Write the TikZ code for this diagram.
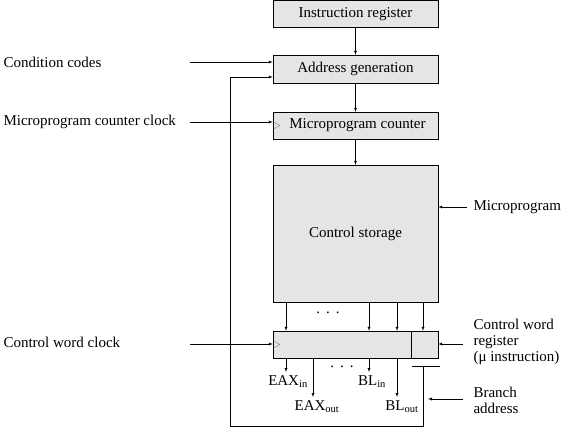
\documentclass[tikz,border=0pt]{standalone}
\usepackage{fontspec}
\setmainfont{Liberation Serif}
\begin{document}
\begin{tikzpicture}[x=1pt,y=-1pt,>=latex,
  every node/.style={font=\fontsize{15}{16}\selectfont},
  regbox/.style={draw,fill=gray!20,minimum width=165pt,inner sep=0pt}]
  \useasboundingbox (0,0) rectangle (563,428);
  % Registres et mémoire
  \node[regbox,minimum height=27pt] (ir) at (355.5,14) {Instruction register};
  \node[regbox,minimum height=28pt] (ag) at (355.5,69) {Address generation};
  \node[regbox,minimum height=27pt] (mpc) at (355.5,125.5) {\hspace{4pt}Microprogram counter};
  \node[regbox,minimum height=137pt] (cs) at (355.5,233.5) {Control storage};
  \node[regbox,minimum height=27pt] (cwr) at (355.5,344.5) {};
  \draw (411,0 |- cwr.north) -- (411,0 |- cwr.south);
  % Horloges
  \draw [gray] ([yshift=4pt]mpc.west) -- ++(7,4) -- ++(-7,4);
  \draw [gray] ([yshift=4pt]cwr.west) -- ++(7,4) -- ++(-7,4);
  % Flèches entre les blocs
  \draw [->] (ir) -- (ag);
  \draw [->] (ag) -- (mpc);
  \draw [->] (mpc) -- (cs);
  \foreach \x in {286,369,397,423}
    \draw [->] (\x,0 |- cs.south) -- (\x,0 |- cwr.north);
  \node (dotsa) at (328,313) {.\hspace{6pt}.\hspace{6pt}.};
  % Entrées à gauche
  \node [anchor=west] (cc) at (0,62) {Condition codes};
  \node [anchor=west] (mpcclk) at (0,122) {Microprogram counter clock};
  \node [anchor=west] (cwclk) at (0,342) {Control word clock};
  \coordinate (ccin) at (190,62);
  \coordinate (mpcin) at (190,122);
  \coordinate (cwin) at (190,344);
  \draw [->] (ccin) -- (ccin -| ag.west);
  \draw [->] (mpcin) -- (mpcin -| mpc.west);
  \draw [->] (cwin) -- (cwin -| cwr.west);
  % Textes à droite
  \node [anchor=west] (mp) at (470,207) {Microprogram};
  \node [anchor=west,align=left] (cwl) at (470,342) {Control word\\register\\(μ instruction)};
  \node [anchor=west,align=left] (ba) at (470,400) {Branch\\address};
  \coordinate (mpin) at (467,207);
  \coordinate (cwlin) at (463,344);
  \coordinate (bain) at (463,399);
  \draw [->] (mpin) -- (mpin -| cs.east);
  \draw [->] (cwlin) -- (cwlin -| cwr.east);
  % Sorties du mot de commande
  \node [anchor=north] (eaxin) at (288,372) {EAX\textsubscript{in}};
  \node [anchor=north] (eaxout) at (317,397) {EAX\textsubscript{out}};
  \node [anchor=north] (blin) at (372,372) {BL\textsubscript{in}};
  \node [anchor=north] (blout) at (402,397) {BL\textsubscript{out}};
  \draw [->] (286,0 |- cwr.south) -- (286,0 |- eaxin.north);
  \draw [->] (313,0 |- cwr.south) -- (313,0 |- eaxout.north);
  \draw [->] (369,0 |- cwr.south) -- (369,0 |- blin.north);
  \draw [->] (397,0 |- cwr.south) -- (397,0 |- blout.north);
  \node (dotsb) at (342,367) {.\hspace{6pt}.\hspace{6pt}.};
  % Adresse de branchement
  \coordinate (bfl) at (412,366);
  \coordinate (bfr) at (440,366);
  \coordinate (bf) at (423,366);
  \coordinate (fb) at (230,426);
  \coordinate (agin) at ([yshift=-8pt]ag.west);
  \draw (bfl) -- (bfr);
  \draw [->] (bf) |- (fb) |- (agin);
  \draw [->] (bain) -- ([xshift=5pt]bain -| bf);
\end{tikzpicture}
\end{document}
